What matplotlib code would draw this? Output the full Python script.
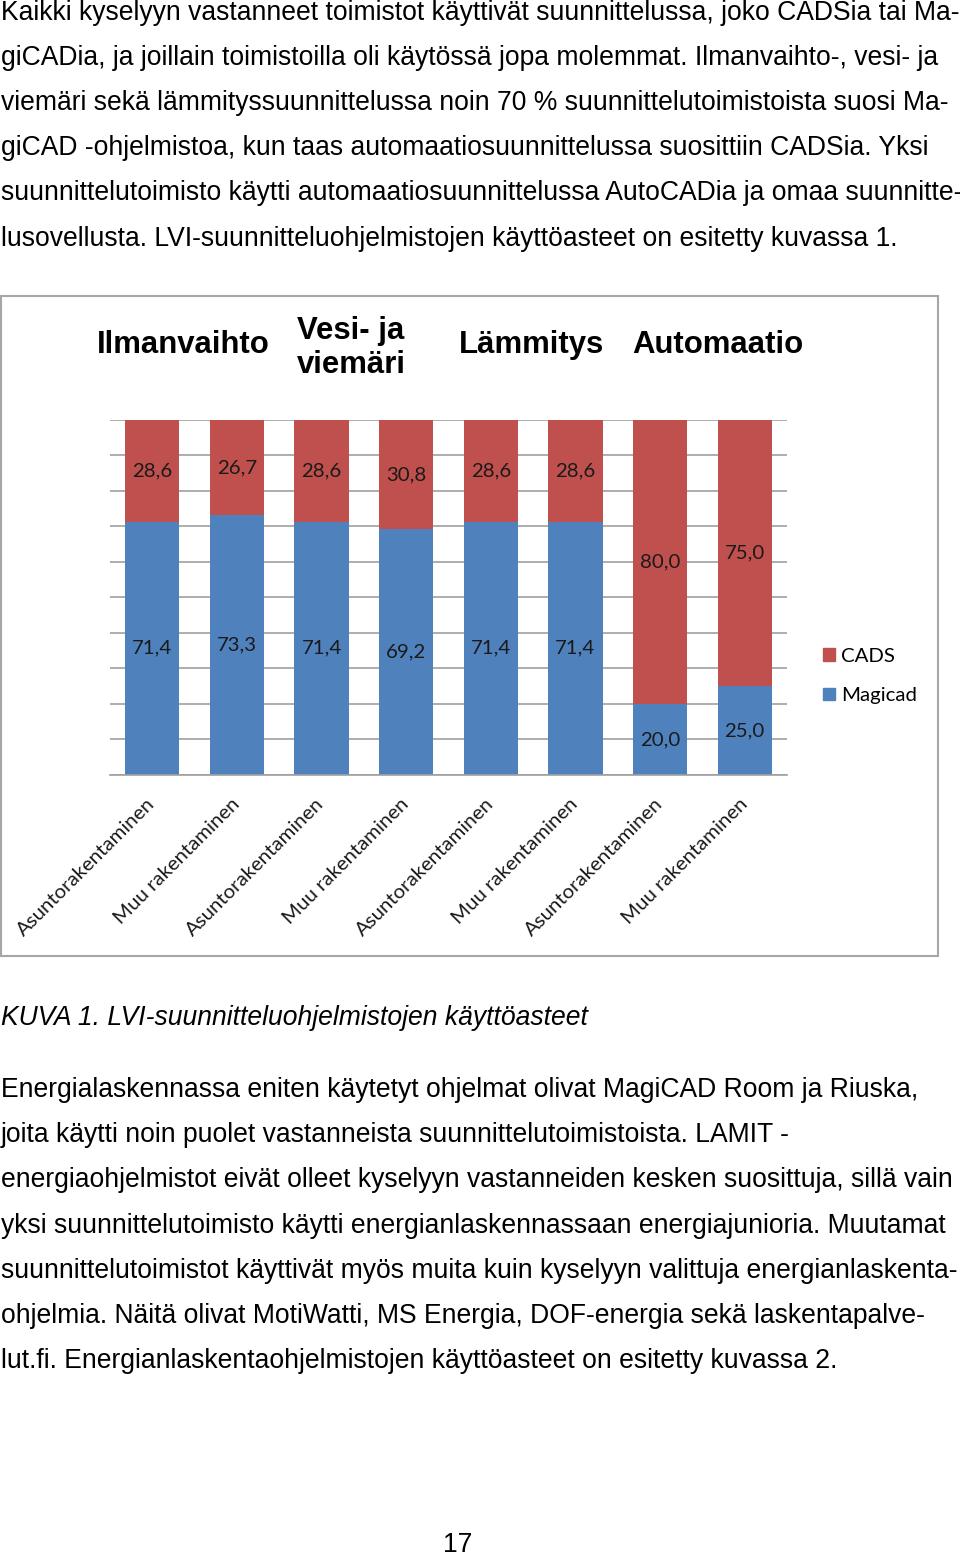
import matplotlib
matplotlib.use("Agg")
import matplotlib.pyplot as plt
from matplotlib.patches import Rectangle, Patch

# chart data
categories = ["Asuntorakentaminen", "Muu rakentaminen"] * 4
magicad = [71.4, 73.3, 71.4, 69.2, 71.4, 71.4, 20.0, 25.0]
cads = [28.6, 26.7, 28.6, 30.8, 28.6, 28.6, 80.0, 75.0]
groups = ["Ilmanvaihto", "Vesi- ja\nviemäri", "Lämmitys", "Automaatio"]

para_top = [
    "Kaikki kyselyyn vastanneet toimistot käyttivät suunnittelussa, joko CADSia tai Ma-",
    "giCADia, ja joillain toimistoilla oli käytössä jopa molemmat. Ilmanvaihto-, vesi- ja",
    "viemäri sekä lämmityssuunnittelussa noin 70 % suunnittelutoimistoista suosi Ma-",
    "giCAD -ohjelmistoa, kun taas automaatiosuunnittelussa suosittiin CADSia. Yksi",
    "suunnittelutoimisto käytti automaatiosuunnittelussa AutoCADia ja omaa suunnitte-",
    "lusovellusta. LVI-suunnitteluohjelmistojen käyttöasteet on esitetty kuvassa 1.",
]
caption = "KUVA 1. LVI-suunnitteluohjelmistojen käyttöasteet"
para_bottom = [
    "Energialaskennassa eniten käytetyt ohjelmat olivat MagiCAD Room ja Riuska,",
    "joita käytti noin puolet vastanneista suunnittelutoimistoista. LAMIT -",
    "energiaohjelmistot eivät olleet kyselyyn vastanneiden kesken suosittuja, sillä vain",
    "yksi suunnittelutoimisto käytti energianlaskennassaan energiajunioria. Muutamat",
    "suunnittelutoimistot käyttivät myös muita kuin kyselyyn valittuja energianlaskenta-",
    "ohjelmia. Näitä olivat MotiWatti, MS Energia, DOF-energia sekä laskentapalve-",
    "lut.fi. Energianlaskentaohjelmistojen käyttöasteet on esitetty kuvassa 2.",
]
page_no = "17"

W, H = 960, 1556
RED = "#C0504D"
BLUE = "#4F81BD"


def fx(x):
    return x / W


def fy(y):
    return 1 - y / H


fig = plt.figure(figsize=(W / 100, H / 100), dpi=100)

body = dict(family="Liberation Sans", fontsize=19.1, color="black", va="baseline", ha="left")
for i, line in enumerate(para_top):
    fig.text(fx(1), fy(20 + i * 45.1), line, **body)
fig.text(fx(1), fy(1025), caption, style="italic", **body)
for i, line in enumerate(para_bottom):
    fig.text(fx(1), fy(1097 + i * 45.2), line, **body)
fig.text(fx(458), fy(1552), page_no, family="Liberation Sans", fontsize=19.1, ha="center", va="baseline")

# chart frame
fig.patches.append(Rectangle((fx(1), fy(956)), fx(937), (956 - 296) / H,
                             transform=fig.transFigure, fill=False, edgecolor="#a6a6a6", lw=1.5))

ax = fig.add_axes([fx(110), fy(775), fx(677), 355 / H])
x = range(len(categories))
ax.bar(x, magicad, width=0.64, color=BLUE, zorder=2)
ax.bar(x, cads, width=0.64, bottom=magicad, color=RED, zorder=2)

lab = dict(family="Lato", fontsize=14.7, color="#1a1a1a", ha="center", va="center", zorder=3)
for i in x:
    ax.text(i, magicad[i] / 2, f"{magicad[i]:.1f}".replace(".", ","), **lab)
    ax.text(i, magicad[i] + cads[i] / 2, f"{cads[i]:.1f}".replace(".", ","), **lab)

ax.set_xlim(-0.5, 7.5)
ax.set_ylim(0, 100)
ax.set_yticks(range(0, 101, 10))
ax.set_yticklabels([])
ax.yaxis.grid(True, color="#a0a0a0", lw=1.2, zorder=0)
ax.tick_params(length=0)
for s in ["top", "right", "left"]:
    ax.spines[s].set_visible(False)
ax.spines["bottom"].set_color("#a0a0a0")
ax.spines["bottom"].set_linewidth(1.2)
ax.set_xticks(list(x))
ax.set_xticklabels(categories, rotation=45, ha="right", va="center", rotation_mode="anchor",
                   family="Lato", fontsize=14.7, color="#1a1a1a")
ax.tick_params(axis="x", pad=19)

# group headers
hdr = dict(family="Liberation Sans", fontweight="bold", fontsize=22.4, ha="left", va="center")
fig.text(fx(97), fy(345), groups[0], **hdr)
fig.text(fx(297), fy(348), groups[1], linespacing=1.18, **hdr)
fig.text(fx(459), fy(345), groups[2], **hdr)
fig.text(fx(632), fy(345), groups[3], **hdr)

handles = [Patch(color=RED, label="CADS"), Patch(color=BLUE, label="Magicad")]
fig.legend(handles=handles, loc="center left", bbox_to_anchor=(fx(805), fy(676)),
           frameon=False, prop=dict(family="Lato", size=14.7), handlelength=0.55,
           handleheight=0.55, handletextpad=0.3, labelspacing=1.1)

fig.savefig("out.png", dpi=100)
